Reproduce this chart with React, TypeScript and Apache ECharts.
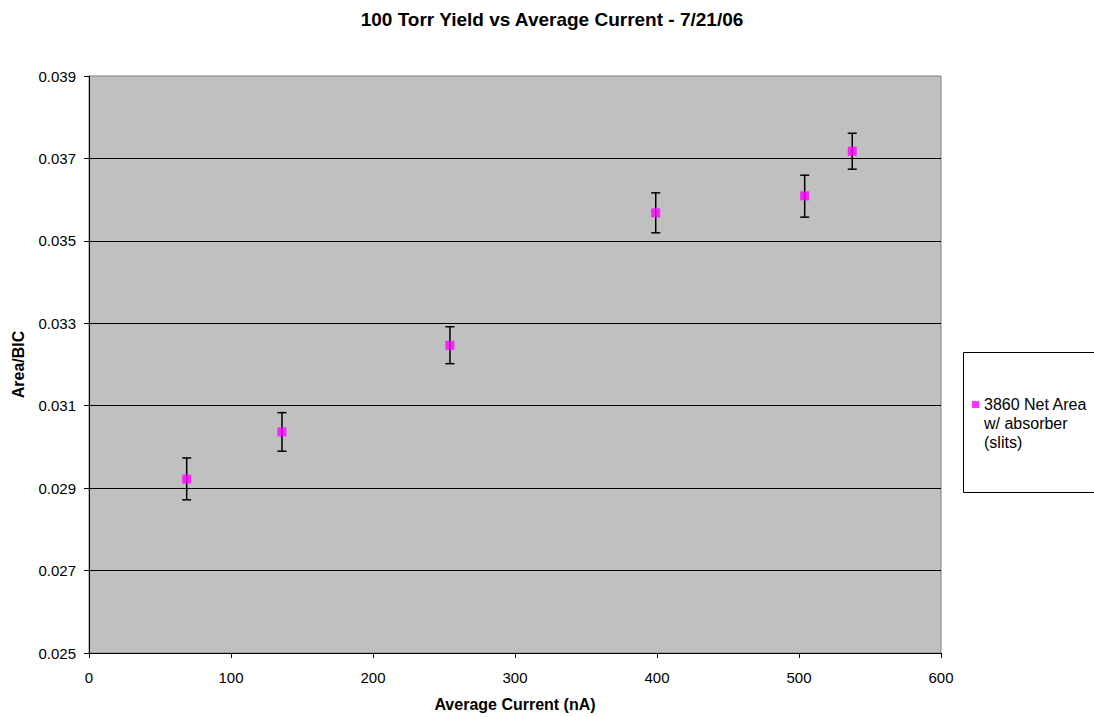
import React, { useEffect, useRef } from "react";
import * as echarts from "echarts";

const currents = [68.8, 135.9, 254.2, 399.1, 504.0, 537.5];
const yields = [0.02922, 0.030364, 0.032465, 0.03568, 0.036092, 0.037175];
const errLow = [0.028716, 0.029896, 0.03202, 0.035195, 0.035575, 0.036739];
const errHigh = [0.029733, 0.030832, 0.032916, 0.036165, 0.036593, 0.037611];
const seriesName = "3860 Net Area\nw/ absorber\n(slits)";

export default function App() {
  const ref = useRef<HTMLDivElement>(null);
  useEffect(() => {
    if (!ref.current) return;
    const chart = echarts.init(ref.current, null, { renderer: "svg" });
    const font = "Liberation Sans, Arial, sans-serif";
    chart.setOption({
      animation: false,
      backgroundColor: "#ffffff",
      textStyle: { fontFamily: font },
      title: {
        text: "100 Torr Yield vs Average Current - 7/21/06",
        left: 547,
        top: 5,
        textAlign: "center",
        textStyle: { fontFamily: font, fontSize: 19, fontWeight: "bold", color: "#000" },
      },
      grid: {
        left: 89,
        top: 76,
        right: 153,
        bottom: 64,
        show: true,
        backgroundColor: "#C0C0C0",
        borderColor: "#808080",
        borderWidth: 1,
      },
      legend: {
        left: 967,
        top: 352,
        icon: "rect",
        itemWidth: 7,
        itemHeight: 7,
        data: [seriesName],
        formatter: (name: string) => "\n\n" + name,
        textStyle: {
          fontFamily: font,
          fontSize: 16,
          lineHeight: 19,
          color: "#000",
        },
      },
      graphic: [
        {
          type: "rect",
          shape: { x: 963.5, y: 352.5, width: 140, height: 140 },
          style: { fill: "#ffffff", stroke: "#000", lineWidth: 1 },
          z: -1,
        },
      ],
      xAxis: {
        type: "value",
        min: 0,
        max: 600,
        interval: 100,
        name: "Average Current (nA)",
        nameLocation: "middle",
        nameGap: 43,
        nameTextStyle: { fontFamily: font, fontSize: 16, fontWeight: "bold", color: "#000" },
        axisLine: { show: true, lineStyle: { color: "#000", width: 1 } },
        axisTick: { show: true, length: 5, inside: false, lineStyle: { color: "#000" } },
        axisLabel: { fontFamily: font, fontSize: 15, color: "#000", margin: 17 },
        splitLine: { show: false },
      },
      yAxis: {
        type: "value",
        min: 0.025,
        max: 0.039,
        interval: 0.002,
        name: "Area/BIC",
        nameLocation: "middle",
        nameGap: 63,
        nameRotate: 90,
        nameTextStyle: { fontFamily: font, fontSize: 16, fontWeight: "bold", color: "#000" },
        axisLine: { show: true, lineStyle: { color: "#000", width: 1 } },
        axisTick: { show: true, length: 5, inside: false, lineStyle: { color: "#000" } },
        axisLabel: {
          fontFamily: font,
          fontSize: 15,
          color: "#000",
          margin: 13,
          formatter: (v: number) => v.toFixed(3),
        },
        splitLine: {
          show: true,
          showMinLine: false,
          showMaxLine: false,
          lineStyle: { color: "#000", width: 1 },
        },
      },
      series: [
        {
          type: "custom",
          name: "errors",
          data: currents.map((x, i) => [x, errLow[i], errHigh[i]]),
          renderItem: (params: any, api: any) => {
            const x = api.value(0);
            const lo = api.coord([x, api.value(1)]);
            const hi = api.coord([x, api.value(2)]);
            const cap = 4.5;
            const st = { stroke: "#000", lineWidth: 1.5 };
            return {
              type: "group",
              children: [
                { type: "line", shape: { x1: lo[0], y1: lo[1], x2: hi[0], y2: hi[1] }, style: st },
                { type: "line", shape: { x1: lo[0] - cap, y1: lo[1], x2: lo[0] + cap, y2: lo[1] }, style: st },
                { type: "line", shape: { x1: hi[0] - cap, y1: hi[1], x2: hi[0] + cap, y2: hi[1] }, style: st },
              ],
            };
          },
          z: 2,
          silent: true,
        },
        {
          type: "scatter",
          name: seriesName,
          data: currents.map((x, i) => [x, yields[i]]),
          symbol: "rect",
          symbolSize: 9,
          itemStyle: { color: "#FF00FF" },
          z: 3,
        },
      ],
    });
    return () => chart.dispose();
  }, []);
  return <div ref={ref} style={{ width: 1094, height: 717, position: "absolute", left: 0, top: 0 }} />;
}
